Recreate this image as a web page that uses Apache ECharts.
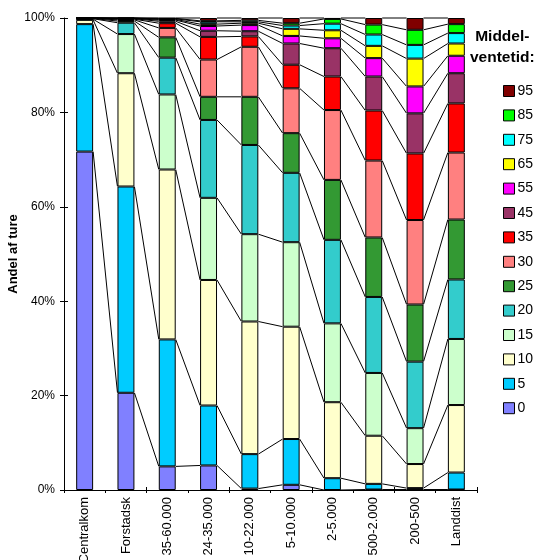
<!DOCTYPE html>
<html>
<head>
<meta charset="utf-8">
<script src="https://cdn.jsdelivr.net/npm/echarts@6/dist/echarts.min.js"></script>
<style>
  html, body { margin: 0; padding: 0; background: #fff; }
  #chart { width: 542px; height: 560px; }
</style>
</head>
<body>
<div id="chart"></div>
<script>
// Area types (x axis)
const categories = ['Centralkom', 'Forstadsk', '35-60.000', '24-35.000', '10-22.000',
                    '5-10.000', '2-5.000', '500-2.000', '200-500', 'Landdist'];

// Mean waiting time classes (minutes), bottom of stack first
const waitClasses = ['0', '5', '10', '15', '20', '25', '30', '35', '45', '55', '65', '75', '85', '95'];
const classColors = ['#8080FF', '#00CCFF', '#FFFFCC', '#CCFFCC', '#33CCCC', '#339933', '#FF8080',
                     '#FF0000', '#993366', '#FF00FF', '#FFFF00', '#00FFFF', '#00FF00', '#800000'];

// Share of trips (%) per waiting-time class, one value per area type
const v0  = [71.7, 20.6,  5.0,  5.2,  0.3,  1.1,  0.0,  0.1,  0.1,  0.1];
const v5  = [27.0, 43.7, 26.9, 12.7,  7.3,  9.7,  2.5,  1.2,  0.3,  3.6];
const v10 = [0.9,  24.0, 36.0, 26.6, 28.1, 23.8, 16.1, 10.2,  5.1, 14.3];
const v15 = [0.15,  8.3, 15.9, 17.4, 18.5, 17.9, 16.7, 13.3,  7.6, 14.0];
const v20 = [0.1,   2.4,  7.8, 16.5, 18.9, 14.7, 17.7, 16.1, 14.1, 12.6];
const v25 = [0.05, 0.35,  4.3,  4.9, 10.2,  8.4, 12.7, 12.6, 12.1, 12.7];
const v30 = [0.04, 0.25,  2.0,  7.9, 10.6,  9.5, 14.8, 16.3, 17.9, 14.2];
const v35 = [0.03, 0.15,  1.0,  4.8,  2.2,  5.0,  7.1, 10.6, 14.1, 10.4];
const v45 = [0.02, 0.1,   0.4,  1.3,  1.1,  4.5,  6.0,  7.2,  8.5,  6.4];
const v55 = [0.01, 0.05, 0.25,  1.0,  1.3,  1.6,  2.1,  3.9,  5.7,  3.7];
const v65 = [0,    0.04, 0.15,  0.4,  0.4,  1.5,  1.7,  2.6,  5.9,  2.6];
const v75 = [0,    0.03, 0.12,  0.5,  0.3,  0.7,  1.4,  2.4,  2.9,  2.2];
const v85 = [0,    0.02, 0.1,   0.2,  0.3,  0.5,  1.0,  2.1,  3.2,  1.9];
const v95 = [0,    0.01, 0.08,  0.6,  0.5,  1.1,  0.2,  1.4,  2.5,  1.3];

const yTickLabels = ['0%', '20%', '40%', '60%', '80%', '100%'];

const classValues = [v0, v5, v10, v15, v20, v25, v30, v35, v45, v55, v65, v75, v85, v95];

const FONT = '"Liberation Sans", Arial, sans-serif';
const BAR_FRAC = 0.41;

// Cumulative top of each class per area type (for the connecting series lines)
const cumTops = [];
classValues.forEach((vals, s) => {
  cumTops.push(vals.map((v, i) => (s === 0 ? 0 : cumTops[s - 1][i]) + v));
});
const seriesLineData = [];
cumTops.forEach(tops => {
  for (let i = 0; i < categories.length - 1; i++) {
    seriesLineData.push([i, tops[i], tops[i + 1]]);
  }
});

const barSeries = waitClasses.map((name, s) => ({
  name: name,
  type: 'bar',
  stack: 'andel',
  barWidth: (BAR_FRAC * 100) + '%',
  data: classValues[s],
  itemStyle: { color: classColors[s], borderColor: '#000', borderWidth: 1 },
  emphasis: { disabled: true },
  z: 3
}));

const chart = echarts.init(document.getElementById('chart'), null, { renderer: 'canvas' });

chart.setOption({
  animation: false,
  backgroundColor: '#fff',
  textStyle: { fontFamily: FONT },
  grid: { left: 64, right: 65, top: 18, bottom: 70, containLabel: false, outerBoundsMode: 'none' },
  xAxis: [{
    type: 'category',
    data: categories,
    axisLine: { lineStyle: { color: '#000', width: 1 } },
    axisTick: { show: true, length: 3, lineStyle: { color: '#000' } },
    axisLabel: { rotate: 90, interval: 0, color: '#000', fontSize: 13, fontFamily: FONT, margin: 7 }
  }, {
    type: 'category',
    data: categories,
    position: 'bottom',
    axisLine: { show: false },
    axisTick: { show: true, inside: true, length: 3, lineStyle: { color: '#000' } },
    axisLabel: { show: false }
  }],
  yAxis: [{
    type: 'value',
    min: 0, max: 100, interval: 20,
    name: 'Andel af ture',
    nameLocation: 'middle',
    nameGap: 44,
    nameMoveOverlap: false,
    nameTextStyle: { fontSize: 13, fontWeight: 'bold', color: '#000', fontFamily: FONT },
    axisLine: { show: true, lineStyle: { color: '#000', width: 1 } },
    axisTick: { show: true, length: 4, lineStyle: { color: '#000' } },
    axisLabel: { color: '#000', fontSize: 12, fontFamily: FONT, margin: 9,
                 formatter: v => yTickLabels[Math.round(v / 20)] },
    splitLine: { show: false }
  }, {
    type: 'value',
    position: 'left',
    min: 0, max: 100, interval: 20,
    axisLine: { show: false },
    axisTick: { show: true, inside: true, length: 4, lineStyle: { color: '#000' } },
    axisLabel: { show: false },
    splitLine: { show: false }
  }],
  legend: {
    data: waitClasses.slice().reverse(),
    orient: 'vertical',
    left: 498,
    top: 79,
    itemWidth: 11,
    itemHeight: 11,
    itemGap: 10.4,
    icon: 'rect',
    selectedMode: false,
    itemStyle: { borderColor: '#000', borderWidth: 1 },
    textStyle: { fontSize: 14, lineHeight: 14, color: '#000', fontFamily: FONT, padding: [0, 0, 0, -2] }
  },
  graphic: [
    { type: 'text', left: 470, top: 26,
      style: { text: 'Middel-\nventetid:', font: 'bold 15.5px ' + FONT, fill: '#000',
               textAlign: 'center', lineHeight: 21, x: 36 } }
  ],
  series: [{
    name: 'serielinjer',
    type: 'custom',
    data: seriesLineData,
    encode: { x: 0, y: [1, 2] },
    z: 1,
    silent: true,
    renderItem: function (params, api) {
      const i = api.value(0);
      const half = api.size([1, 0])[0] * BAR_FRAC / 2;
      const p1 = api.coord([i, api.value(1)]);
      const p2 = api.coord([i + 1, api.value(2)]);
      return {
        type: 'line',
        shape: { x1: p1[0] + half, y1: p1[1], x2: p2[0] - half, y2: p2[1] },
        style: { stroke: '#000', lineWidth: 1 }
      };
    }
  }].concat(barSeries)
});
</script>
</body>
</html>
